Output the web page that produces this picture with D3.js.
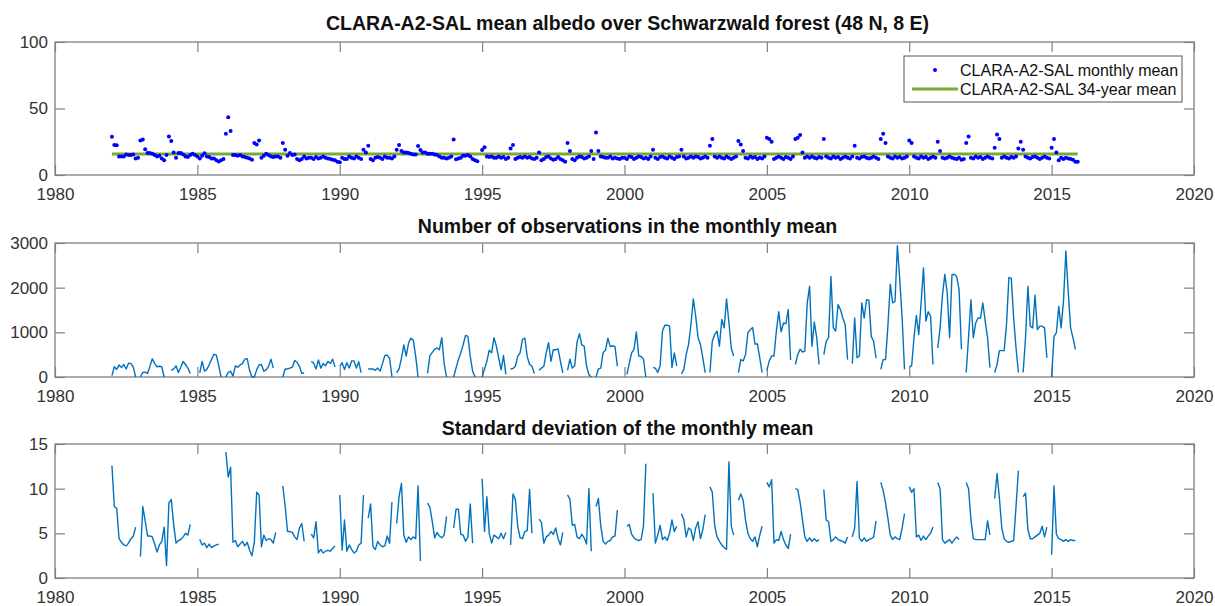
<!DOCTYPE html>
<html>
<head>
<meta charset="utf-8">
<script src="https://cdn.jsdelivr.net/npm/d3@7"></script>
<style>
  body { margin: 0; background: #fff; }
  text { font-family: "Liberation Sans", Arial, Helvetica, sans-serif; }
</style>
</head>
<body>
<svg id="chart" width="1215" height="606"></svg>
<script>
// Monthly records, one row of 12 months (Jan..Dec) per year; null = no data
const years = d3.range(1982, 2016);

const albedo = [
  [28.7, 22.5, 22.3, 14, 14, 14, 15.5, 15, 15, 15.5, 12.4, 13],
  [26, 26.7, 19.3, 16.5, 16.5, 16, 15, 14, 14.5, 12.5, 11, 15],
  [29, 25.5, 17, 13, 16.5, 16.5, 15.5, 14, 13.5, 15, 16, 15],
  [14, 12.4, 14.4, 16.3, 14, 13.5, 12.5, 12.4, 11.1, 10.1, 11, 12],
  [31, 43.5, 33, 15, 15, 14.5, 15, 14, 13.5, 13, 12.5, 11.5],
  [24, 23, 26, 13, 14.5, 16, 15, 14, 13.5, 14, 14, 13],
  [24, 19, 14.5, 16.5, 15, 15.5, 12, 11, 12, 14, 12.5, 13],
  [13, 12, 13.5, 12.5, 13, 14, 13, 12.5, 12, 11.5, 11, 10],
  [9.5, 13, 12, 12, 14, 13, 12.5, 14, 13, 12, 19, 17],
  [22, 12, 11, 13, 13.5, 13, 12, 14, 13, 13, 12.5, 14],
  [19, 22.5, 18, 17, 17, 16.5, 16, 15.5, 15.5, 21.8, 18.8, 17],
  [17, 16, 16, 16, 15.5, 15, 14, 13, 13, 12.5, 13, 14],
  [26.7, 11.9, 12.5, 13, 14.5, 14.5, 15, 14, 12, 11, 10.4, null],
  [18.8, 20.8, 14, 13.5, 14, 13, 13, 14, 13, 13.5, 12, 13],
  [20, 22.5, 12, 13, 13.5, 13, 14, 13, 13.5, 12.5, 12, 13],
  [17, 11, 12, 13.5, 14, 12.5, 11.5, 12, 13.5, 12, 11, 10],
  [24, 18, 12, 11, 13, 14, 13.5, 12.5, 13, 14, 18, 12],
  [32, 18, 14, 13.5, 13, 13, 14, 12.5, 13, 12.5, 12, 13],
  [13, 12, 14, 13.5, 12, 13, 14, 13.5, 12.5, 13, 12, 14],
  [19, 13, 12, 13.5, 14, 13, 12.5, 14, 13, 12, 13.5, 14],
  [19, 14, 12.5, 13, 14, 13, 14, 13.5, 12.5, 13, 14, 13],
  [22, 27, 14, 13, 14, 13, 12.5, 14, 13, 12, 13, 14],
  [25.5, 23, 18, 13, 12.5, 14, 13, 13.5, 12, 13, 12.5, 14],
  [28, 27, 25, 12, 13, 14, 13, 12, 13.5, 13, 12, 14],
  [27, 28, 30, 17, 13, 14, 13, 14, 13, 12.5, 13.5, 13],
  [27, 14, 13, 12.5, 14, 13, 13.5, 12, 13, 14, 13, 12.5],
  [14, 22, 13, 12.5, 13.5, 14, 13, 12.5, 13, 14, 13, 12],
  [27, 31, 24, 14, 13, 12.5, 14, 13, 13.5, 12.5, 13, 14],
  [26, 24, 14, 13, 12.5, 14, 13, 13.5, 12, 13, 14, 13],
  [25, 18, 13, 12.5, 13, 14, 13, 12.5, 12, 13, 11.5, 12],
  [24, 29, 13, 12.5, 14, 13, 13.5, 12, 13, 14, 13, 12.5],
  [20.5, 30.5, 27, 13, 14, 13, 12.5, 13.5, 13, 14, 20, 25],
  [19, 14, 13, 12.5, 13.5, 14, 13, 12, 13, 14, 13, 12.5],
  [20.5, 27, 17, 11, 13, 12, 13, 12.5, 12, 11.5, 10, 10]
];

const obsCount = [
  [30, 230, 170, 270, 210, 280, 180, 310, 300, 220, 0, null],
  [0, 100, 110, 80, 240, 410, 300, 230, 240, 230, 0, null],
  [null, 150, 180, 250, 100, 220, 350, 280, 200, 80, null, null],
  [null, 90, 350, 130, 170, 280, 400, 510, 490, 250, 0, null],
  [0, 100, 130, 20, 250, 220, 270, 300, 400, 410, 150, 0],
  [0, 160, 270, 280, 130, 160, 240, 400, 200, null, null, null],
  [0, 180, 180, 200, 220, 370, 330, 240, 80, 90, null, null],
  [350, 310, 180, 380, 200, 300, 250, 350, 300, 400, 220, null],
  [240, 320, 170, 320, 200, 360, 360, 200, 340, 100, null, null],
  [180, 180, 180, 150, 200, 130, 300, 480, 490, 420, 0, null],
  [90, 180, 420, 720, 470, 760, 870, 820, 460, 0, null, null],
  [null, 80, 480, 550, 620, 650, 610, 880, 300, 0, null, null],
  [0, 200, 390, 540, 720, 930, 910, 460, 130, 0, null, null],
  [0, 180, 350, 600, 540, 880, 690, 420, 160, 480, 60, null],
  [180, 190, 240, 460, 540, 840, 870, 460, 280, 240, 80, null],
  [150, 200, 240, 540, 770, 350, 610, 610, 630, 350, 90, null],
  [150, 400, 200, 250, 780, 970, 720, 690, 250, 50, 0, null],
  [0, 180, 200, 550, 600, 870, 680, 700, 680, 240, null, null],
  [null, 60, 300, 540, 620, 1010, 470, 460, 400, 0, null, null],
  [210, 200, 100, 250, 1030, 1160, 1160, 1140, 210, 540, 250, null],
  [70, 170, 500, 730, 1170, 1750, 1360, 880, 730, 430, 100, null],
  [100, 800, 950, 1030, 690, 1290, 1100, 1750, 1220, 650, 470, null],
  [100, 390, 360, 500, 990, 1060, 1110, 740, 740, 430, 100, null],
  [150, 360, 470, 470, 1030, 1460, 1010, 1210, 1190, 1510, 380, null],
  [280, 500, 620, 560, 580, 1660, 2030, 690, 1230, 880, 280, null],
  [500, 800, 880, 2250, 1100, 1030, 1620, 1510, 1320, 1170, 390, null],
  [300, 1320, 430, 470, 1660, 1320, 1730, 1720, 910, 800, 420, null],
  [170, 390, 390, 1140, 2080, 1660, 1690, 2940, 2180, 1320, 170, null],
  [230, 250, 880, 1380, 950, 1660, 2440, 1250, 1460, 1360, 280, null],
  [650, 1100, 1840, 2300, 1880, 880, 2290, 2300, 2250, 1950, 620, null],
  [100, 900, 1730, 880, 1210, 1320, 1320, 1660, 1250, 880, 210, null],
  [100, 280, 590, 590, 590, 1190, 2230, 2210, 1320, 650, 100, null],
  [100, 880, 2030, 1140, 1100, 1830, 1060, 1140, 1140, 1100, 430, null],
  [0, 910, 990, 1580, 1100, 1700, 2820, 1900, 1100, 880, 620, null]
];

const stdDev = [
  [12.6, 8.0, 7.8, 4.4, 4.0, 3.7, 3.6, 3.9, 4.4, 4.7, 5.7, null],
  [2.4, 8.0, 6.4, 4.7, 4.7, 4.6, 3.8, 2.9, 3.7, 4.1, 5.7, 1.4],
  [8.4, 8.8, 6.0, 3.9, 4.2, 4.3, 4.6, 5.0, 4.8, 6.0, null, null],
  [null, 4.3, 3.7, 3.9, 3.4, 3.8, 3.4, 3.6, 3.7, 3.8, null, null],
  [14.1, 11.3, 12.4, 4.0, 4.2, 3.5, 3.8, 4.1, 3.6, 4.0, 3.1, 2.5],
  [4.0, 9.6, 9.3, 3.5, 4.8, 4.2, 4.4, 4.3, 3.9, 5.1, null, null],
  [10.3, 8.0, 5.2, 5.2, 5.1, 4.6, 4.3, 5.6, 6.1, 4.1, null, null],
  [4.9, 4.5, 6.3, 2.8, 3.2, 2.8, 3.0, 3.1, 3.0, 3.3, 3.6, null],
  [9.3, 3.1, 6.5, 3.0, 3.7, 3.2, 2.8, 3.0, 3.7, 3.9, 9.3, null],
  [6.7, 8.3, 3.5, 3.2, 4.1, 3.7, 3.5, 3.6, 4.7, 3.9, 8.5, null],
  [6.1, 9.1, 10.6, 4.8, 4.0, 4.6, 4.3, 4.6, 4.4, 10.3, 1.9, null],
  [null, 8.4, 7.9, 6.3, 4.5, 5.1, 4.7, 4.5, 4.8, 6.9, null, null],
  [5.6, 7.7, 7.7, 4.9, 4.8, 4.1, 4.6, 8.3, 3.9, null, null, null],
  [11.1, 5.2, 9.1, 5.0, 3.9, 4.8, 4.6, 4.4, 5.0, 4.4, 5.1, null],
  [3.7, 9.4, 8.8, 5.8, 4.5, 4.4, 5.2, 5.3, 9.9, 5.0, null, null],
  [6.6, 6.2, 3.9, 4.6, 4.8, 5.2, 4.9, 5.6, 4.4, 3.7, 5.1, null],
  [9.3, 8.8, 5.9, 6.0, 4.6, 4.4, 4.9, 4.5, 3.8, 10.0, 3.0, null],
  [8.0, 8.9, 5.8, 4.1, 3.8, 4.1, 4.2, 4.6, 4.7, 7.6, null, null],
  [null, 5.8, 6.0, 4.9, 4.5, 4.3, 4.2, 4.3, 5.8, 12.8, null, null],
  [9.5, 3.9, 4.8, 5.9, 4.3, 4.6, 4.2, 5.0, 6.5, 5.2, 5.8, null],
  [7.2, 6.5, 4.6, 5.6, 5.4, 4.2, 5.6, 6.3, 4.4, 5.4, 7.1, null],
  [10.2, 9.6, 5.9, 4.6, 4.1, 3.7, 3.4, 3.2, 13.0, 5.8, 4.8, null],
  [8.7, 9.4, 8.7, 6.5, 5.0, 4.4, 4.1, 4.6, 3.5, 4.8, 5.8, null],
  [10.7, 10.2, 11.0, 3.9, 4.3, 4.2, 5.2, 4.3, 3.7, 3.3, 4.9, null],
  [10.0, 9.9, 8.5, 6.5, 4.6, 4.1, 4.5, 4.1, 4.4, 4.1, 4.3, null],
  [9.9, 6.5, 6.3, 4.1, 4.3, 4.6, 4.3, 4.2, 4.1, 3.9, 4.6, null],
  [4.6, 5.6, 10.8, 4.5, 4.1, 4.5, 4.1, 4.3, 4.4, 4.6, 6.4, null],
  [10.7, 9.8, 8.4, 6.7, 4.8, 4.3, 4.6, 4.4, 4.3, 5.6, 7.2, null],
  [10.2, 9.6, 10.0, 4.6, 4.8, 4.2, 4.7, 4.3, 4.7, 5.0, 5.7, null],
  [10.7, 10.0, 4.3, 3.9, 4.1, 4.3, 3.9, 4.3, 4.6, 4.3, null, null],
  [10.7, 10.0, 6.5, 4.4, 4.3, 4.3, 4.3, 4.3, 4.3, 6.4, 4.8, null],
  [8.9, 11.7, 8.9, 5.6, 4.4, 4.1, 4.0, 4.1, 4.2, 8.0, 12.0, null],
  [9.1, 9.5, 5.4, 4.4, 4.4, 4.6, 4.8, 5.0, 5.8, 4.6, 5.7, null],
  [2.6, 10.3, 4.9, 4.4, 4.3, 4.1, 4.3, 4.1, 4.3, 4.2, 4.2, null]
];

const meanAlbedo = 15.7;          // 34-year mean albedo (%)
const meanPeriod = [1982, 2015 + 11 / 12];

const xTicks = d3.range(1980, 2021, 5);
const albedoTicks = [0, 50, 100];
const obsTicks = [0, 1000, 2000, 3000];
const stdTicks = [0, 5, 10, 15];

const titles = [
  "CLARA-A2-SAL mean albedo over Schwarzwald forest (48 N, 8 E)",
  "Number of observations in the monthly mean",
  "Standard deviation of the monthly mean"
];
const legendLabels = ["CLARA-A2-SAL monthly mean", "CLARA-A2-SAL 34-year mean"];

// ---------------------------------------------------------------
const toSeries = rows => years.flatMap((y, i) =>
  rows[i].map((v, m) => ({ t: y + m / 12, v })));

const svg = d3.select("#chart");
const left = 55, right = 1194;
const x = d3.scaleLinear().domain([1980, 2020]).range([left, right]);

const lineBlue = "#0072BD", dotBlue = "#0000FF", green = "#77AC30";
const axisGray = "#808080", labelGray = "#333333";

const panels = [
  { top: 42,  bottom: 175, domain: [0, 100],  ticks: albedoTicks, title: titles[0], titleY: 30 },
  { top: 243, bottom: 377, domain: [0, 3000], ticks: obsTicks,    title: titles[1], titleY: 233 },
  { top: 444, bottom: 578, domain: [0, 15],   ticks: stdTicks,    title: titles[2], titleY: 435 }
];

panels.forEach(p => {
  p.y = d3.scaleLinear().domain(p.domain).range([p.bottom, p.top]);
  const g = svg.append("g");
  p.g = g;

  // axes with inward ticks on all four sides
  const bottomAxis = d3.axisBottom(x).tickValues(xTicks).tickFormat(d3.format("d"))
    .tickSize(-10).tickPadding(13);
  const topAxis = d3.axisTop(x).tickValues(xTicks).tickFormat("").tickSize(-10);
  const leftAxis = d3.axisLeft(p.y).tickValues(p.ticks).tickFormat(d3.format("d"))
    .tickSize(-10).tickPadding(7);
  const rightAxis = d3.axisRight(p.y).tickValues(p.ticks).tickFormat("").tickSize(-10);

  const styleAxis = sel => {
    sel.select(".domain").remove();
    sel.selectAll(".tick line").attr("stroke", axisGray).attr("stroke-width", 1.2);
    sel.selectAll(".tick text").attr("fill", labelGray).attr("font-size", 17)
      .attr("font-family", "'Liberation Sans', Arial, sans-serif");
  };
  g.append("g").attr("transform", `translate(0,${p.bottom})`).call(bottomAxis).call(styleAxis);
  g.append("g").attr("transform", `translate(0,${p.top})`).call(topAxis).call(styleAxis);
  g.append("g").attr("transform", `translate(${left},0)`).call(leftAxis).call(styleAxis);
  g.append("g").attr("transform", `translate(${right},0)`).call(rightAxis).call(styleAxis);

  g.append("rect")
    .attr("x", left).attr("y", p.top)
    .attr("width", right - left).attr("height", p.bottom - p.top)
    .attr("fill", "none").attr("stroke", axisGray).attr("stroke-width", 1.3);

  g.append("text")
    .attr("x", (left + right) / 2 + 3).attr("y", p.titleY)
    .attr("text-anchor", "middle").attr("font-weight", "bold")
    .attr("font-size", 19.5).attr("fill", "#111")
    .text(p.title);
});

// --- Panel 1: monthly albedo dots and long-term mean -----------------
const p1 = panels[0];
p1.g.append("line")
  .attr("x1", x(meanPeriod[0])).attr("x2", x(meanPeriod[1]))
  .attr("y1", p1.y(meanAlbedo)).attr("y2", p1.y(meanAlbedo))
  .attr("stroke", green).attr("stroke-width", 3);

p1.g.append("g").selectAll("circle")
  .data(toSeries(albedo).filter(d => d.v != null))
  .join("circle")
  .attr("cx", d => x(d.t)).attr("cy", d => p1.y(d.v))
  .attr("r", 2).attr("fill", dotBlue);

// legend
const lg = p1.g.append("g");
lg.append("rect").attr("x", 904).attr("y", 56).attr("width", 278).attr("height", 46)
  .attr("fill", "#fff").attr("stroke", "#555").attr("stroke-width", 1);
lg.append("circle").attr("cx", 935).attr("cy", 70).attr("r", 2).attr("fill", dotBlue);
lg.append("line").attr("x1", 912).attr("x2", 958).attr("y1", 89).attr("y2", 89)
  .attr("stroke", green).attr("stroke-width", 3);
lg.selectAll("text.lbl").data(legendLabels).join("text")
  .attr("class", "lbl")
  .attr("x", 960).attr("y", (d, i) => 75.5 + i * 19.5)
  .attr("font-size", 16).attr("fill", "#111")
  .text(d => d);

// --- Panels 2 and 3: monthly lines with gaps -----------------------------
[[panels[1], obsCount], [panels[2], stdDev]].forEach(([p, rows]) => {
  const line = d3.line()
    .defined(d => d.v != null)
    .x(d => x(d.t)).y(d => p.y(d.v));
  p.g.append("path")
    .datum(toSeries(rows))
    .attr("fill", "none").attr("stroke", lineBlue)
    .attr("stroke-width", 1.4).attr("stroke-linejoin", "round")
    .attr("d", line);
});
</script>
</body>
</html>
